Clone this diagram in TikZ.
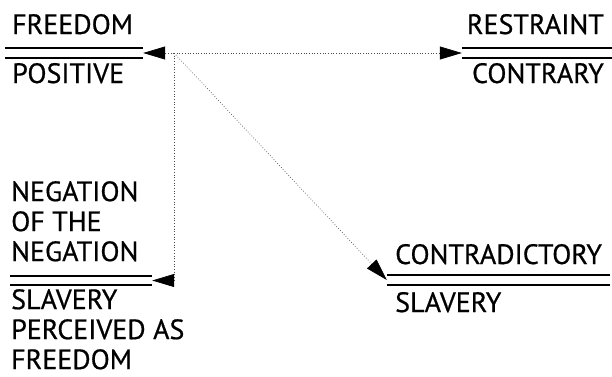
\documentclass[tikz,border=0pt]{standalone}
\usepackage{fontspec}
\setmainfont{PT Sans}[FakeBold=0.6]
\usetikzlibrary{positioning, arrows.meta}

\tikzset{
    lbl/.style={inner sep=0pt, font=\fontsize{28}{30}\selectfont},
    bar/.style={inner sep=0pt, minimum height=10pt},
    dbl/.style={line width=1.8pt},
    link/.style={dotted, line width=0.7pt, black!70},
    tip/.style={-{Triangle[length=22pt, width=13pt, color=black]}}
}

\begin{document}
\begin{tikzpicture}[x=1pt, y=-1pt]
    \useasboundingbox (0,0) rectangle (612,376);

    % Double bars
    \node[bar, minimum width=138pt] (fp) at (74,53) {};
    \node[bar, minimum width=150pt] (rc) at (537,53) {};
    \node[bar, minimum width=142pt, minimum height=9pt] (nn) at (81,280.5) {};
    \node[bar, minimum width=223pt] (cs) at (498.5,280) {};
    \foreach \b in {fp, rc, nn, cs}
        \draw[dbl] (\b.north west) -- (\b.north east)
                   (\b.south west) -- (\b.south east);

    % Labels above and below the bars
    \node[lbl, anchor=base west] (freedom) at (12,34) {FREEDOM};
    \node[lbl, anchor=base west] (positive) at (12,83) {POSITIVE};
    \node[lbl, anchor=base east] (restraint) at (604,34) {RESTRAINT};
    \node[lbl, anchor=base east] (contrary) at (604,83) {CONTRARY};
    \node[lbl, anchor=north west, align=left] (negation) at (11,181) {NEGATION\\OF THE\\NEGATION};
    \node[lbl, anchor=north west, align=left] (perceived) at (11,289) {SLAVERY\\PERCEIVED AS\\FREEDOM};
    \node[lbl, anchor=base west] (contradictory) at (395,264) {CONTRADICTORY};
    \node[lbl, anchor=base west] (slavery) at (395,312) {SLAVERY};

    % Dotted links from the hub
    \coordinate (hub) at (174,53);
    \draw[link, tip] (hub) -- (fp.east);
    \draw[link, tip] (hub) -- (rc.west);
    \draw[link, tip] (hub) |- (nn.east);
    \draw[link, tip] (hub) -- (cs.west);
\end{tikzpicture}
\end{document}
